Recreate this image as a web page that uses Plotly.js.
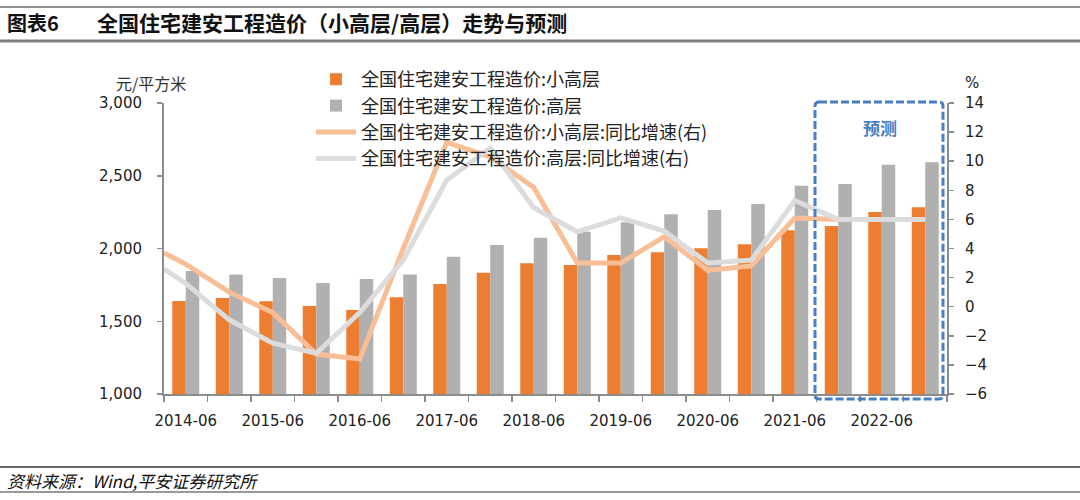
<!DOCTYPE html>
<html>
<head>
<meta charset="utf-8">
<script src="https://cdn.plot.ly/plotly-3.0.1.min.js"></script>
<style>html,body{margin:0;padding:0;background:#fff;}#chart{width:1080px;height:500px;}</style>
</head>
<body>
<div id="chart"></div>
<script>
// ---- data ----
const categories = ['2014-06','2014-12','2015-06','2015-12','2016-06','2016-12','2017-06','2017-12','2018-06','2018-12','2019-06','2019-12','2020-06','2020-12','2021-06','2021-12','2022-06','2022-12'];
const smallHighCost = [1639,1660,1637,1605,1577,1665,1756,1834,1898,1887,1955,1974,2001,2029,2125,2155,2251,2283];
const highCost      = [1845,1822,1797,1763,1790,1822,1944,2024,2074,2115,2180,2235,2265,2306,2432,2443,2576,2592];
const smallHighYoY  = [2.93,1.0,-0.4,-3.25,-3.6,4.0,11.3,10.3,8.2,3.0,3.0,4.8,2.5,2.8,6.1,6.0,6.0,6.0];
const highYoY       = [1.6,-0.9,-2.5,-3.2,-0.4,3.2,8.7,10.9,6.8,5.15,6.1,5.2,3.0,3.2,7.3,6.0,6.0,6.0];
// line values where the lines meet the left axis
const smallHighYoYLeadIn = 3.7;
const highYoYLeadIn = 2.6;
const tickLabels = categories.filter((c, i) => i % 2 === 0);
const seriesNames = ['全国住宅建安工程造价:小高层','全国住宅建安工程造价:高层','全国住宅建安工程造价:小高层:同比增速(右)','全国住宅建安工程造价:高层:同比增速(右)'];

// ---- build ----
const idx = categories.map((c, i) => i);
const lineX = [-0.5].concat(idx);
const tickVals = idx.filter(i => i % 2 === 0);

const CJK = '"Noto Sans CJK SC", "Noto Sans", sans-serif';
const LAT = '"DejaVu Sans", Verdana, sans-serif';

const traces = [
  {type:'bar', x: idx, y: smallHighCost, name: seriesNames[0], marker:{color:'#ED7D31', line:{width:0}}, yaxis:'y'},
  {type:'bar', x: idx, y: highCost, name: seriesNames[1], marker:{color:'#B0B0B0', line:{width:0}}, yaxis:'y'},
  {type:'scatter', mode:'lines', x: lineX, y: [smallHighYoYLeadIn].concat(smallHighYoY), name: seriesNames[2], line:{color:'#F8BE96', width:5}, yaxis:'y2'},
  {type:'scatter', mode:'lines', x: lineX, y: [highYoYLeadIn].concat(highYoY), name: seriesNames[3], line:{color:'#DCDCDC', width:5}, yaxis:'y2'}
];

const L = 164, R = 947, T = 103, B = 394;
const W = R - L, H = B - T;
const px = v => (v - L) / W;
const py = v => (B - v) / H;

// rounded dashed forecast box (paper coords)
function roundRect(x0, y0, x1, y1, r) {
  const rx = r / W, ry = r / H;
  const X0 = px(x0), X1 = px(x1), Y0 = py(y1), Y1 = py(y0);
  return `M${X0+rx},${Y1} L${X1-rx},${Y1} Q${X1},${Y1} ${X1},${Y1-ry} L${X1},${Y0+ry} Q${X1},${Y0} ${X1-rx},${Y0} L${X0+rx},${Y0} Q${X0},${Y0} ${X0},${Y0+ry} L${X0},${Y1-ry} Q${X0},${Y1} ${X0+rx},${Y1} Z`;
}

const layout = {
  width: 1080, height: 500,
  margin: {l: L, r: 1080 - R, t: T, b: 500 - B, pad: 0},
  paper_bgcolor: '#fff', plot_bgcolor: '#fff',
  barmode: 'group', bargap: 0.38, bargroupgap: 0,
  showlegend: true,
  legend: {x: px(311), y: py(61), xanchor: 'left', yanchor: 'top', bgcolor: 'rgba(0,0,0,0)',
           font: {family: CJK, size: 18, color: '#222'}, traceorder: 'normal', itemwidth: 40, tracegroupgap: 0},
  xaxis: {
    range: [-0.5, categories.length - 0.5], tickmode: 'array', tickvals: tickVals, ticktext: tickLabels,
    ticks: '', showgrid: false, zeroline: false, showline: true, linecolor: '#8c8c8c', linewidth: 2,
    tickfont: {family: LAT, size: 15, color: '#222'}, ticklabelstandoff: 12,
    minor: {tickmode: 'linear', tick0: -0.5, dtick: 1, ticks: 'outside', ticklen: 6, tickwidth: 1.5, tickcolor: '#8c8c8c', showgrid: false}
  },
  yaxis: {
    range: [1000, 3000], tickmode: 'array', tickvals: [1000,1500,2000,2500,3000], tickformat: ',',
    ticks: 'outside', ticklen: 5, tickwidth: 1.5, tickcolor: '#8c8c8c', showgrid: false, zeroline: false,
    showline: true, linecolor: '#8c8c8c', linewidth: 2,
    tickfont: {family: LAT, size: 15, color: '#222'}, ticklabelstandoff: 12
  },
  yaxis2: {
    overlaying: 'y', side: 'right', range: [-6, 14], tickmode: 'linear', tick0: -6, dtick: 2,
    ticks: 'outside', ticklen: 5, tickwidth: 1.5, tickcolor: '#8c8c8c', showgrid: false, zeroline: false,
    showline: true, linecolor: '#8c8c8c', linewidth: 2,
    tickfont: {family: LAT, size: 15, color: '#222'}, ticklabelstandoff: 8
  },
  shapes: [
    {type:'line', xref:'paper', yref:'paper', x0: px(0), x1: px(1080), y0: py(7), y1: py(7), line:{color:'#222', width:1}},
    {type:'line', xref:'paper', yref:'paper', x0: px(0), x1: px(1080), y0: py(41), y1: py(41), line:{color:'#808080', width:3}},
    {type:'line', xref:'paper', yref:'paper', x0: px(0), x1: px(1080), y0: py(467), y1: py(467), line:{color:'#333', width:1.5}},
    {type:'line', xref:'paper', yref:'paper', x0: px(0), x1: px(1080), y0: py(492), y1: py(492), line:{color:'#333', width:1}},
    {type:'path', xref:'paper', yref:'paper', path: roundRect(815, 102, 943, 399, 4), line:{color:'#4A7EC2', width:3, dash:'8px,3px'}, fillcolor:'rgba(0,0,0,0)'}
  ],
  annotations: [
    {xref:'paper', yref:'paper', x: px(5), y: py(22), xanchor:'left', yanchor:'middle', showarrow:false, text:'<b>图表6</b>', font:{family: CJK, size: 20, color:'#111'}},
    {xref:'paper', yref:'paper', x: px(95), y: py(22), xanchor:'left', yanchor:'middle', showarrow:false, text:'<b>全国住宅建安工程造价（小高层/高层）走势与预测</b>', font:{family: CJK, size: 21, color:'#111'}},
    {xref:'paper', yref:'paper', x: px(5), y: py(480), xanchor:'left', yanchor:'middle', showarrow:false, text:'<i>资料来源：Wind,平安证券研究所</i>', font:{family: CJK, size: 17, color:'#111'}},
    {xref:'paper', yref:'paper', x: px(114), y: py(83), xanchor:'left', yanchor:'middle', showarrow:false, text:'元/平方米', font:{family: CJK, size: 16, color:'#333'}},
    {xref:'paper', yref:'paper', x: px(963), y: py(83), xanchor:'left', yanchor:'middle', showarrow:false, text:'%', font:{family: LAT, size: 15, color:'#222'}},
    {xref:'paper', yref:'paper', x: px(880), y: py(127), xanchor:'center', yanchor:'middle', showarrow:false, text:'<b>预测</b>', font:{family: CJK, size: 17, color:'#4A7EC2'}}
  ]
};

Plotly.newPlot('chart', traces, layout, {displayModeBar: false, staticPlot: true});
</script>
</body>
</html>
